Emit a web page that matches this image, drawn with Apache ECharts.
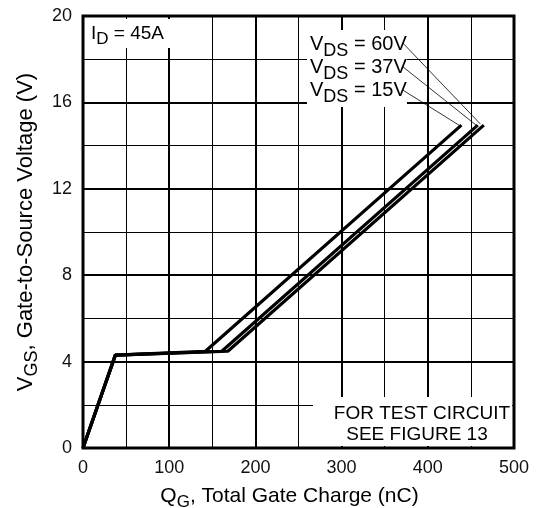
<!DOCTYPE html>
<html>
<head>
<meta charset="utf-8">
<script src="https://cdn.jsdelivr.net/npm/echarts@6/dist/echarts.min.js"></script>
<style>
  html, body { margin: 0; padding: 0; background: #fff; }
  #chart { width: 540px; height: 508px; }
</style>
</head>
<body>
<div id="chart"></div>
<script>
// Gate charge curves: Q_G (nC) vs V_GS (V), I_D = 45A
const qg15 = [0, 37.5, 142, 439];
const vgs15 = [0, 4.3, 4.48, 14.95];
const qg37 = [0, 37.5, 161, 458];
const vgs37 = [0, 4.3, 4.48, 14.95];
const qg60 = [0, 37.5, 168, 465];
const vgs60 = [0, 4.3, 4.48, 14.95];

// leader lines from the V_DS labels to the curve ends (15V, 37V, 60V)
const leaderFromQ = [371, 371, 371];
const leaderFromV = [16.57, 17.65, 18.75];
const leaderToQ = [438, 456, 461];
const leaderToV = [14.9, 14.95, 15.0];

const FONT = '"Liberation Sans", Arial, sans-serif';

function pairs(xs, ys) {
  return xs.map((x, i) => [x, ys[i]]);
}

const chart = echarts.init(document.getElementById('chart'));

const curveStyle = { color: '#000', width: 3.2 };

const series = [
  { name: 'VDS = 15V', data: pairs(qg15, vgs15) },
  { name: 'VDS = 37V', data: pairs(qg37, vgs37) },
  { name: 'VDS = 60V', data: pairs(qg60, vgs60) }
].map(s => ({
  type: 'line',
  name: s.name,
  data: s.data,
  symbol: 'none',
  lineStyle: curveStyle,
  z: 3,
  animation: false
}));

leaderFromQ.forEach((q, i) => {
  series.push({
    type: 'line',
    data: [[q, leaderFromV[i]], [leaderToQ[i], leaderToV[i]]],
    symbol: 'none',
    lineStyle: { color: '#000', width: 0.8 },
    z: 4,
    animation: false
  });
});

// normal + subscript rich styles
function richSet(size, subSize, drop) {
  return {
    n: { fontSize: size, fontFamily: FONT, color: '#000', lineHeight: size + 2 },
    s: { fontSize: subSize, fontFamily: FONT, color: '#000', lineHeight: subSize, padding: [drop * 2, 0, 0, 0] }
  };
}

const option = {
  backgroundColor: '#fff',
  animation: false,
  grid: {
    left: 83, right: 26, top: 16, bottom: 60,
    outerBoundsMode: 'none',
    containLabel: false,
    show: true,
    borderColor: '#000',
    borderWidth: 3
  },
  xAxis: {
    type: 'value',
    min: 0, max: 500, interval: 100,
    name: '{n|Q}{s|G}{n|, Total Gate Charge (nC)}',
    nameLocation: 'middle',
    nameGap: 25,
    nameTextStyle: { rich: richSet(21, 17, 6), padding: [0, 18, 0, 0] },
    axisLine: { show: false },
    axisTick: { show: false },
    axisLabel: { color: '#111', fontSize: 18, fontFamily: FONT, margin: 11 },
    splitLine: { show: true, lineStyle: { color: '#000', width: 2 } },
    minorTick: { show: false, splitNumber: 2 },
    minorSplitLine: { show: true, lineStyle: { color: '#000', width: 1 } }
  },
  yAxis: {
    type: 'value',
    min: 0, max: 20, interval: 4,
    name: '{n|V}{s|GS}{n|, Gate-to-Source Voltage (V)}',
    nameLocation: 'middle',
    nameGap: 45,
    nameTextStyle: { rich: richSet(22, 18, 6) },
    axisLine: { show: false },
    axisTick: { show: false },
    axisLabel: { color: '#111', fontSize: 18, fontFamily: FONT, margin: 11 },
    splitLine: { show: true, lineStyle: { color: '#000', width: 2 } },
    minorTick: { show: false, splitNumber: 2 },
    minorSplitLine: { show: true, lineStyle: { color: '#000', width: 1 } }
  },
  series: series,
  graphic: [
    // white boxes behind the annotations
    { type: 'rect', z: 1, shape: { x: 86, y: 19, width: 104, height: 29 }, style: { fill: '#fff' } },
    { type: 'rect', z: 1, shape: { x: 307, y: 30, width: 100, height: 77 }, style: { fill: '#fff' } },
    { type: 'rect', z: 1, shape: { x: 313, y: 397, width: 199, height: 49 }, style: { fill: '#fff' } },
    {
      type: 'text', z: 5, x: 91, y: 34,
      style: { text: '{n|I}{s|D}{n| = 45A}', rich: richSet(19, 17, 5), verticalAlign: 'middle' }
    },
    {
      type: 'text', z: 5, x: 310, y: 44,
      style: { text: '{n|V}{s|DS}{n| = 60V}', rich: richSet(20, 18, 7), verticalAlign: 'middle' }
    },
    {
      type: 'text', z: 5, x: 310, y: 67,
      style: { text: '{n|V}{s|DS}{n| = 37V}', rich: richSet(20, 18, 7), verticalAlign: 'middle' }
    },
    {
      type: 'text', z: 5, x: 310, y: 90.5,
      style: { text: '{n|V}{s|DS}{n| = 15V}', rich: richSet(20, 18, 7), verticalAlign: 'middle' }
    },
    {
      type: 'text', z: 5, x: 422, y: 414,
      style: { text: 'FOR TEST CIRCUIT', font: '19px ' + FONT, fill: '#000', align: 'center', verticalAlign: 'middle' }
    },
    {
      type: 'text', z: 5, x: 417, y: 435,
      style: { text: 'SEE FIGURE 13', font: '19px ' + FONT, fill: '#000', align: 'center', verticalAlign: 'middle' }
    }
  ]
};

chart.setOption(option);
</script>
</body>
</html>
